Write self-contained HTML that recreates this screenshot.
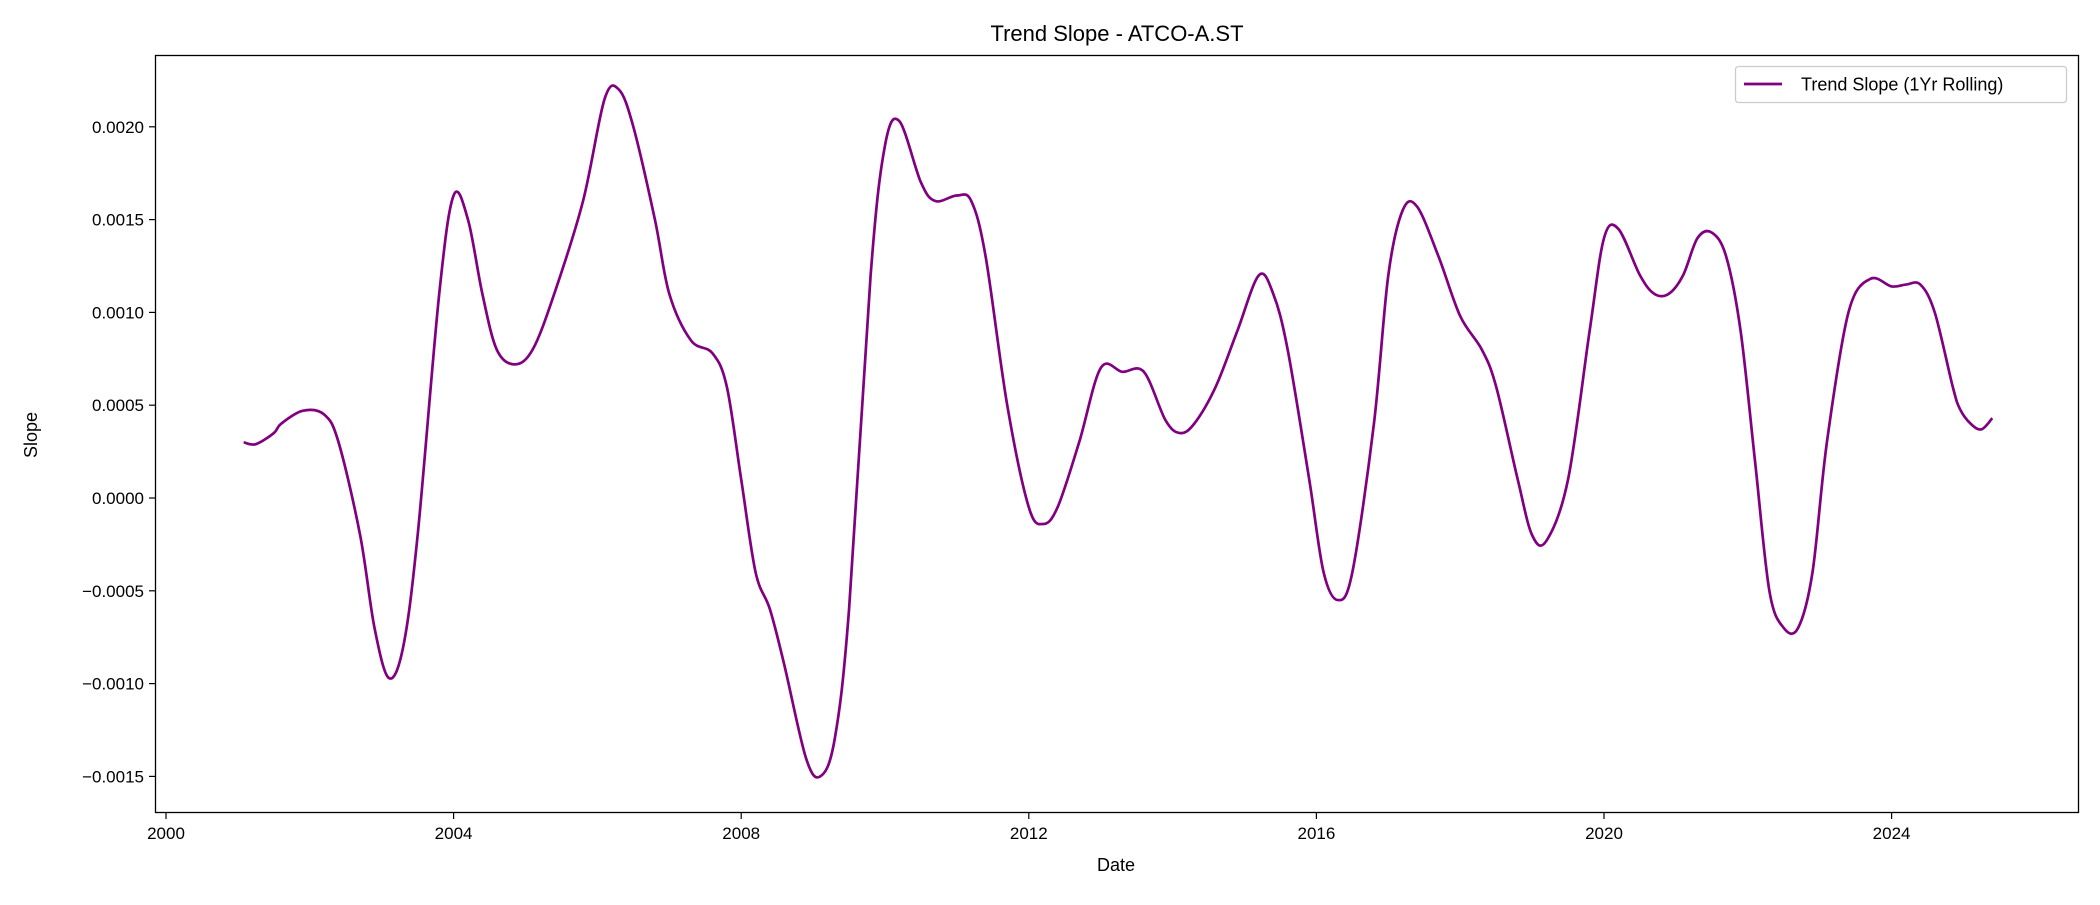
<!DOCTYPE html>
<html><head><meta charset="utf-8"><style>
body{margin:0;background:#fff}
svg text{font-family:"Liberation Sans","DejaVu Sans",sans-serif;fill:#000}
</style></head><body>
<svg id="chart" width="2100" height="900" xmlns="http://www.w3.org/2000/svg">
<rect width="2100" height="900" fill="#fff"/>
<text x="1117" y="41" font-size="22" text-anchor="middle">Trend Slope - ATCO-A.ST</text>
<g id="xticks"></g>
<g id="yticks"></g>
<path id="line" fill="none" stroke="#800080" stroke-width="2.7"/>
<rect x="155.5" y="55.5" width="1923" height="757" fill="none" stroke="#000" stroke-width="1.3"/>
<text x="1116" y="871" font-size="18" text-anchor="middle">Date</text>
<text x="37" y="435" font-size="18" text-anchor="middle" transform="rotate(-90 37 435)">Slope</text>
<g>
<rect x="1735.5" y="66.5" width="331" height="36" rx="3" fill="#fff" stroke="#ccc" stroke-width="1.3"/>
<line x1="1744" y1="84" x2="1782" y2="84" stroke="#800080" stroke-width="2.7"/>
<text x="1801" y="90.5" font-size="18">Trend Slope (1Yr Rolling)</text>
</g>
</svg>
<script>
const xTickLabels=["2000","2004","2008","2012","2016","2020","2024"];
const xTickValues=[2000,2004,2008,2012,2016,2020,2024];
const yTickValues=[-0.0015,-0.001,-0.0005,0,0.0005,0.001,0.0015,0.002];
const yTickLabels=["\u22120.0015","\u22120.0010","\u22120.0005","0.0000","0.0005","0.0010","0.0015","0.0020"];
const years=[2001.08,2001.25,2001.5,2001.6,2001.9,2002.2,2002.4,2002.7,2002.9,2003.1,2003.3,2003.5,2003.8,2004.0,2004.2,2004.4,2004.6,2004.85,2005.1,2005.4,2005.8,2006.1,2006.3,2006.5,2006.8,2007.0,2007.3,2007.6,2007.8,2008.0,2008.2,2008.4,2008.6,2008.9,2009.1,2009.3,2009.5,2009.8,2010.0,2010.2,2010.5,2010.7,2011.0,2011.2,2011.4,2011.7,2012.0,2012.2,2012.4,2012.7,2013.0,2013.3,2013.6,2013.9,2014.1,2014.3,2014.6,2014.9,2015.2,2015.4,2015.6,2015.9,2016.1,2016.3,2016.5,2016.8,2017.0,2017.2,2017.4,2017.7,2018.0,2018.3,2018.5,2018.8,2019.0,2019.2,2019.5,2019.8,2020.0,2020.2,2020.5,2020.7,2020.9,2021.1,2021.3,2021.5,2021.7,2021.9,2022.1,2022.3,2022.5,2022.7,2022.9,2023.1,2023.4,2023.7,2024.0,2024.2,2024.4,2024.6,2024.85,2024.95,2025.1,2025.25,2025.4];
const slopes=[0.0003,0.00029,0.00035,0.0004,0.00047,0.00045,0.0003,-0.0002,-0.0007,-0.00097,-0.0008,-0.0002,0.0011,0.00163,0.0015,0.0011,0.0008,0.00072,0.0008,0.0011,0.0016,0.00215,0.0022,0.002,0.0015,0.0011,0.00085,0.00078,0.0006,0.0001,-0.0004,-0.0006,-0.0009,-0.0014,-0.0015,-0.0013,-0.0006,0.0012,0.0019,0.00203,0.0017,0.0016,0.00163,0.0016,0.0013,0.0005,-0.00005,-0.00014,-0.00005,0.0003,0.0007,0.00068,0.00068,0.00042,0.00035,0.0004,0.0006,0.0009,0.0012,0.0011,0.0008,0.0001,-0.0004,-0.00055,-0.0004,0.0004,0.0012,0.00155,0.00157,0.0013,0.00098,0.0008,0.0006,0.0001,-0.0002,-0.00023,0.0001,0.0009,0.0014,0.00145,0.0012,0.0011,0.0011,0.0012,0.0014,0.00143,0.0013,0.0009,0.0002,-0.0005,-0.0007,-0.0007,-0.0004,0.0003,0.001,0.00118,0.00114,0.00115,0.00115,0.001,0.0006,0.00048,0.0004,0.00037,0.00043];
const NS="http://www.w3.org/2000/svg";
const xs=y=>166+(y-2000)*71.9;
const ys=v=>498-v/0.0005*92.8;
const xg=document.getElementById('xticks'),yg=document.getElementById('yticks');
xTickValues.forEach((v,i)=>{
 const l=document.createElementNS(NS,'line');
 
 
 l.setAttribute('x1',xs(v));l.setAttribute('x2',xs(v));l.setAttribute('y1',813);l.setAttribute('y2',819);l.setAttribute('stroke','#000');l.setAttribute('stroke-width','1.2');xg.appendChild(l);
 const t=document.createElementNS(NS,'text');
 
 
 t.setAttribute('x',xs(v));t.setAttribute('y',839);t.setAttribute('font-size','17');t.setAttribute('text-anchor','middle');t.textContent=xTickLabels[i];xg.appendChild(t);
});
yTickValues.forEach((v,i)=>{
 const l=document.createElementNS(NS,'line');
 
 
 l.setAttribute('x1',149);l.setAttribute('x2',155);l.setAttribute('y1',ys(v));l.setAttribute('y2',ys(v));l.setAttribute('stroke','#000');l.setAttribute('stroke-width','1.2');yg.appendChild(l);
 const t=document.createElementNS(NS,'text');
 
 
 t.setAttribute('x',144);t.setAttribute('y',ys(v)+6);t.setAttribute('font-size','17');t.setAttribute('text-anchor','end');t.textContent=yTickLabels[i];yg.appendChild(t);
});
const P=years.map((y,i)=>[xs(y),ys(slopes[i])]);
let d='M'+P[0][0]+','+P[0][1];
for(let i=0;i<P.length-1;i++){
 const p0=P[Math.max(0,i-1)],p1=P[i],p2=P[i+1],p3=P[Math.min(P.length-1,i+2)];
 const c1=[p1[0]+(p2[0]-p0[0])/6,p1[1]+(p2[1]-p0[1])/6];
 const c2=[p2[0]-(p3[0]-p1[0])/6,p2[1]-(p3[1]-p1[1])/6];
 d+=' C'+c1+' '+c2+' '+p2;
}
document.getElementById('line').setAttribute('d',d);
</script>
</body></html>
